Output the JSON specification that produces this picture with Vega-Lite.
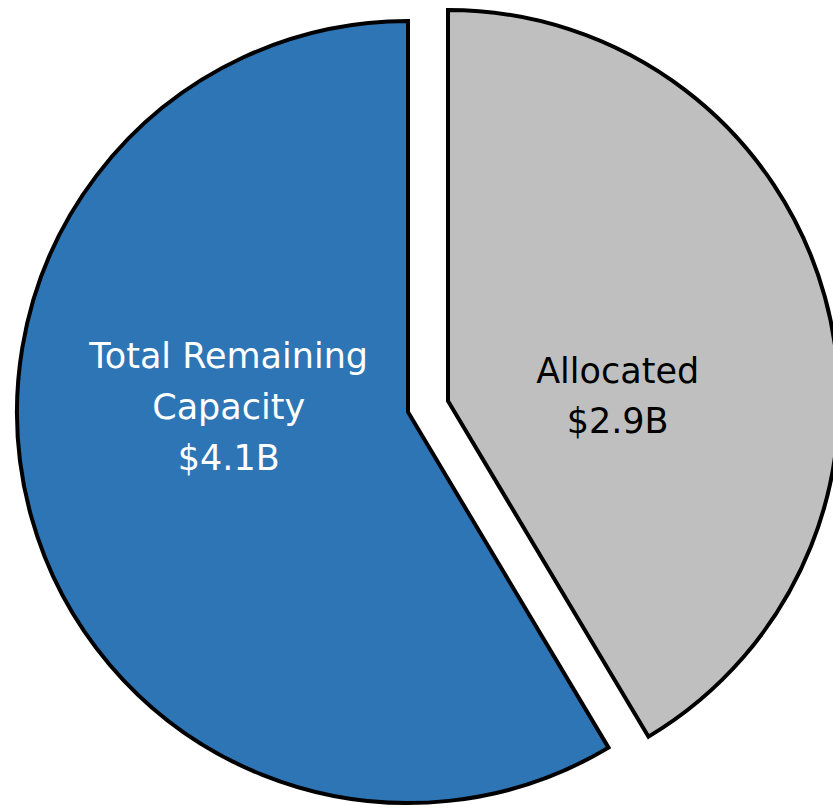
{
  "$schema": "https://vega.github.io/schema/vega-lite/v6.json",
  "width": 833,
  "height": 824,
  "padding": 0,
  "autosize": "none",
  "background": "white",
  "view": {"stroke": null},
  "data": {
    "values": [
      {"category": "Allocated", "value": 2.9, "order": 1, "label": "Allocated\n$2.9B"},
      {"category": "Total Remaining Capacity", "value": 4.1, "order": 2, "label": "Total Remaining\nCapacity\n$4.1B"}
    ]
  },
  "transform": [
    {"stack": "value", "groupby": [], "sort": [{"field": "order", "order": "ascending"}], "as": ["v0", "v1"]}
  ],
  "layer": [
    {
      "transform": [{"filter": "datum.category === 'Allocated'"}],
      "mark": {"type": "arc", "outerRadius": 391, "fill": "#BFBFBF", "stroke": "#000000", "strokeWidth": 4, "strokeJoin": "miter", "xOffset": 31.5, "yOffset": -11},
      "encoding": {
        "theta": {"field": "v0", "type": "quantitative", "scale": {"domain": [0, 7]}},
        "theta2": {"field": "v1"}
      }
    },
    {
      "transform": [{"filter": "datum.category !== 'Allocated'"}],
      "mark": {"type": "arc", "outerRadius": 391, "fill": "#2E75B6", "stroke": "#000000", "strokeWidth": 4, "strokeJoin": "miter", "xOffset": -8.5},
      "encoding": {
        "theta": {"field": "v0", "type": "quantitative", "scale": {"domain": [0, 7]}},
        "theta2": {"field": "v1"}
      }
    },
    {
      "mark": {"type": "text", "radius": 176, "font": "DejaVu Sans", "fontSize": 35, "lineHeight": 50, "lineBreak": "\n", "fill": "#000000", "align": "center", "baseline": "middle", "xOffset": 31.5, "yOffset": 7},
      "encoding": {
        "theta": {"field": "value", "type": "quantitative", "stack": true},
        "order": {"field": "order", "type": "quantitative"},
        "text": {"condition": {"test": "datum.category === 'Allocated'", "field": "label"}, "value": ""}
      }
    },
    {
      "mark": {"type": "text", "radius": 186, "font": "DejaVu Sans", "fontSize": 35, "lineHeight": 51, "lineBreak": "\n", "fill": "#FFFFFF", "align": "center", "baseline": "middle", "xOffset": -8.5, "yOffset": -104},
      "encoding": {
        "theta": {"field": "value", "type": "quantitative", "stack": true},
        "order": {"field": "order", "type": "quantitative"},
        "text": {"condition": {"test": "datum.category !== 'Allocated'", "field": "label"}, "value": ""}
      }
    }
  ]
}
